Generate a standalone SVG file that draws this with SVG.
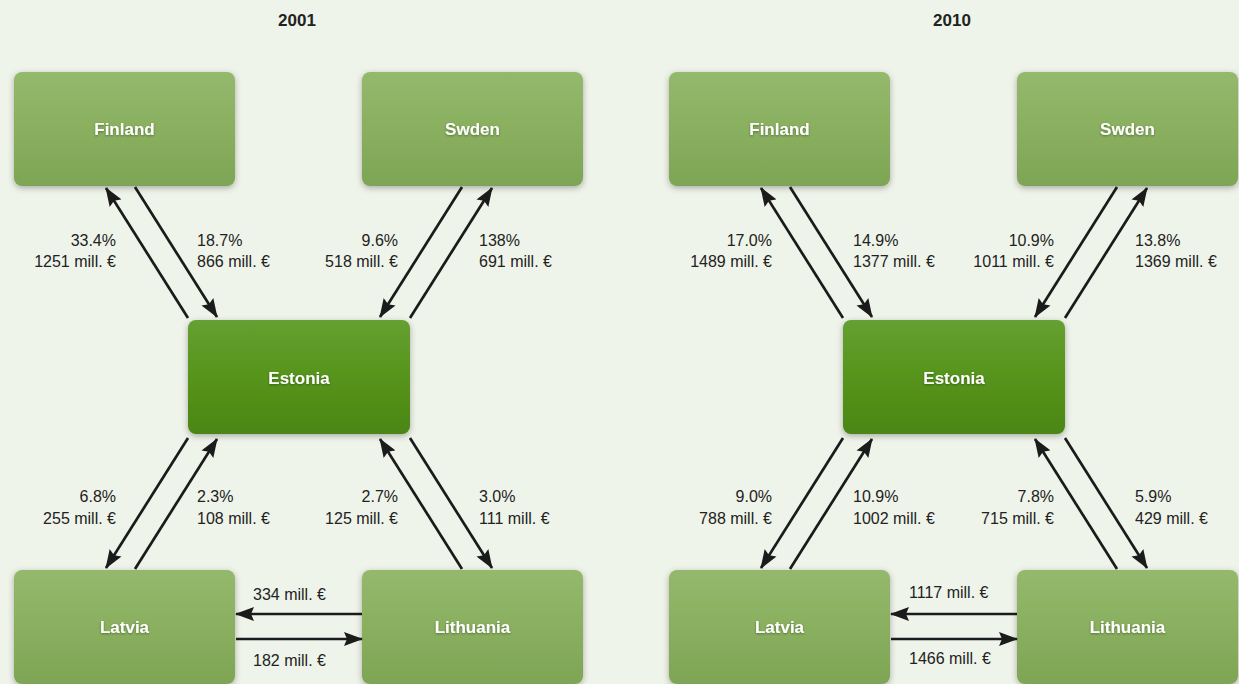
<svg xmlns="http://www.w3.org/2000/svg" width="1239" height="684" viewBox="0 0 1239 684">
<defs>
<linearGradient id="gLight" x1="0" y1="0" x2="0" y2="1">
<stop offset="0" stop-color="#94b96d"/>
<stop offset="0.5" stop-color="#89af5f"/>
<stop offset="1" stop-color="#7ea555"/>
</linearGradient>
<linearGradient id="gDark" x1="0" y1="0" x2="0" y2="1">
<stop offset="0" stop-color="#65a031"/>
<stop offset="0.5" stop-color="#56941b"/>
<stop offset="1" stop-color="#4b8614"/>
</linearGradient>
<filter id="shadow" x="-20%" y="-20%" width="140%" height="150%">
<feDropShadow dx="0" dy="2" stdDeviation="3" flood-color="#000" flood-opacity="0.3"/>
</filter>
<filter id="tshadow" x="-20%" y="-40%" width="140%" height="180%">
<feDropShadow dx="0" dy="1" stdDeviation="1" flood-color="#000" flood-opacity="0.35"/>
</filter>
<marker id="arr" markerUnits="userSpaceOnUse" markerWidth="19" markerHeight="14" refX="18" refY="7" orient="auto">
<path d="M0,0 L19,7 L0,14 L3,7 Z" fill="#1b1b1b"/>
</marker>
<style>
.box{fill:url(#gLight);filter:url(#shadow);}
.est{fill:url(#gDark);filter:url(#shadow);}
.nl{font-family:"Liberation Sans",Arial,sans-serif;font-weight:bold;font-size:17px;fill:#fff;text-anchor:middle;filter:url(#tshadow);}
.t{font-family:"Liberation Sans",Arial,sans-serif;font-size:16px;fill:#222;}
.r{text-anchor:end;}
.title{font-family:"Liberation Sans",Arial,sans-serif;font-weight:bold;font-size:17px;fill:#222;text-anchor:middle;}
.c{stroke:#1b1b1b;stroke-width:2.7;fill:none;marker-end:url(#arr);}
</style>
</defs>
<rect width="1239" height="684" fill="#eff4ea"/>
<text class="title" x="297" y="26">2001</text>
<text class="title" x="952" y="26">2010</text>

<g id="finland2001"><rect class="box" x="14" y="72" width="221" height="114" rx="8"/><text class="nl" x="124.5" y="135">Finland</text></g>
<g id="sweden2001"><rect class="box" x="362" y="72" width="221" height="114" rx="8"/><text class="nl" x="472.5" y="135">Swden</text></g>
<g id="estonia2001"><rect class="est" x="188" y="320" width="222" height="114" rx="8"/><text class="nl" x="299" y="384">Estonia</text></g>
<g id="latvia2001"><rect class="box" x="14" y="570" width="221" height="114" rx="8"/><text class="nl" x="124.5" y="633">Latvia</text></g>
<g id="lithuania2001"><rect class="box" x="362" y="570" width="221" height="114" rx="8"/><text class="nl" x="472.5" y="633">Lithuania</text></g>

<g id="finland2010"><rect class="box" x="669" y="72" width="221" height="114" rx="8"/><text class="nl" x="779.5" y="135">Finland</text></g>
<g id="sweden2010"><rect class="box" x="1017" y="72" width="221" height="114" rx="8"/><text class="nl" x="1127.5" y="135">Swden</text></g>
<g id="estonia2010"><rect class="est" x="843" y="320" width="222" height="114" rx="8"/><text class="nl" x="954" y="384">Estonia</text></g>
<g id="latvia2010"><rect class="box" x="669" y="570" width="221" height="114" rx="8"/><text class="nl" x="779.5" y="633">Latvia</text></g>
<g id="lithuania2010"><rect class="box" x="1017" y="570" width="221" height="114" rx="8"/><text class="nl" x="1127.5" y="633">Lithuania</text></g>

<g id="connectors">
<path class="c" d="M188,318 L106,188"/>
<path class="c" d="M135,187 L217,317"/>
<path class="c" d="M462,187 L380,317"/>
<path class="c" d="M410,318 L492,188"/>
<path class="c" d="M188,438 L106,568"/>
<path class="c" d="M135,569 L217,439"/>
<path class="c" d="M462,569 L380,439"/>
<path class="c" d="M410,438 L492,568"/>
<path class="c" d="M362,614 L236,614"/>
<path class="c" d="M236,639 L362,639"/>

<path class="c" d="M843,318 L761,188"/>
<path class="c" d="M790,187 L872,317"/>
<path class="c" d="M1117,187 L1035,317"/>
<path class="c" d="M1065,318 L1147,188"/>
<path class="c" d="M843,438 L761,568"/>
<path class="c" d="M790,569 L872,439"/>
<path class="c" d="M1117,569 L1035,439"/>
<path class="c" d="M1065,438 L1147,568"/>
<path class="c" d="M1017,614 L891,614"/>
<path class="c" d="M891,639 L1017,639"/>
</g>

<g id="labels">
<text class="t r" x="116" y="246">33.4%</text><text class="t r" x="116" y="267">1251 mill. €</text>
<text class="t" x="197" y="246">18.7%</text><text class="t" x="197" y="267">866 mill. €</text>
<text class="t r" x="398" y="246">9.6%</text><text class="t r" x="398" y="267">518 mill. €</text>
<text class="t" x="479" y="246">138%</text><text class="t" x="479" y="267">691 mill. €</text>
<text class="t r" x="116" y="502">6.8%</text><text class="t r" x="116" y="524">255 mill. €</text>
<text class="t" x="197" y="502">2.3%</text><text class="t" x="197" y="524">108 mill. €</text>
<text class="t r" x="398" y="502">2.7%</text><text class="t r" x="398" y="524">125 mill. €</text>
<text class="t" x="479" y="502">3.0%</text><text class="t" x="479" y="524">111 mill. €</text>
<text class="t" x="253" y="600">334 mill. €</text>
<text class="t" x="253" y="666">182 mill. €</text>

<text class="t r" x="772" y="246">17.0%</text><text class="t r" x="772" y="267">1489 mill. €</text>
<text class="t" x="853" y="246">14.9%</text><text class="t" x="853" y="267">1377 mill. €</text>
<text class="t r" x="1054" y="246">10.9%</text><text class="t r" x="1054" y="267">1011 mill. €</text>
<text class="t" x="1135" y="246">13.8%</text><text class="t" x="1135" y="267">1369 mill. €</text>
<text class="t r" x="772" y="502">9.0%</text><text class="t r" x="772" y="524">788 mill. €</text>
<text class="t" x="853" y="502">10.9%</text><text class="t" x="853" y="524">1002 mill. €</text>
<text class="t r" x="1054" y="502">7.8%</text><text class="t r" x="1054" y="524">715 mill. €</text>
<text class="t" x="1135" y="502">5.9%</text><text class="t" x="1135" y="524">429 mill. €</text>
<text class="t" x="909" y="598">1117 mill. €</text>
<text class="t" x="909" y="664">1466 mill. €</text>
</g>
</svg>
